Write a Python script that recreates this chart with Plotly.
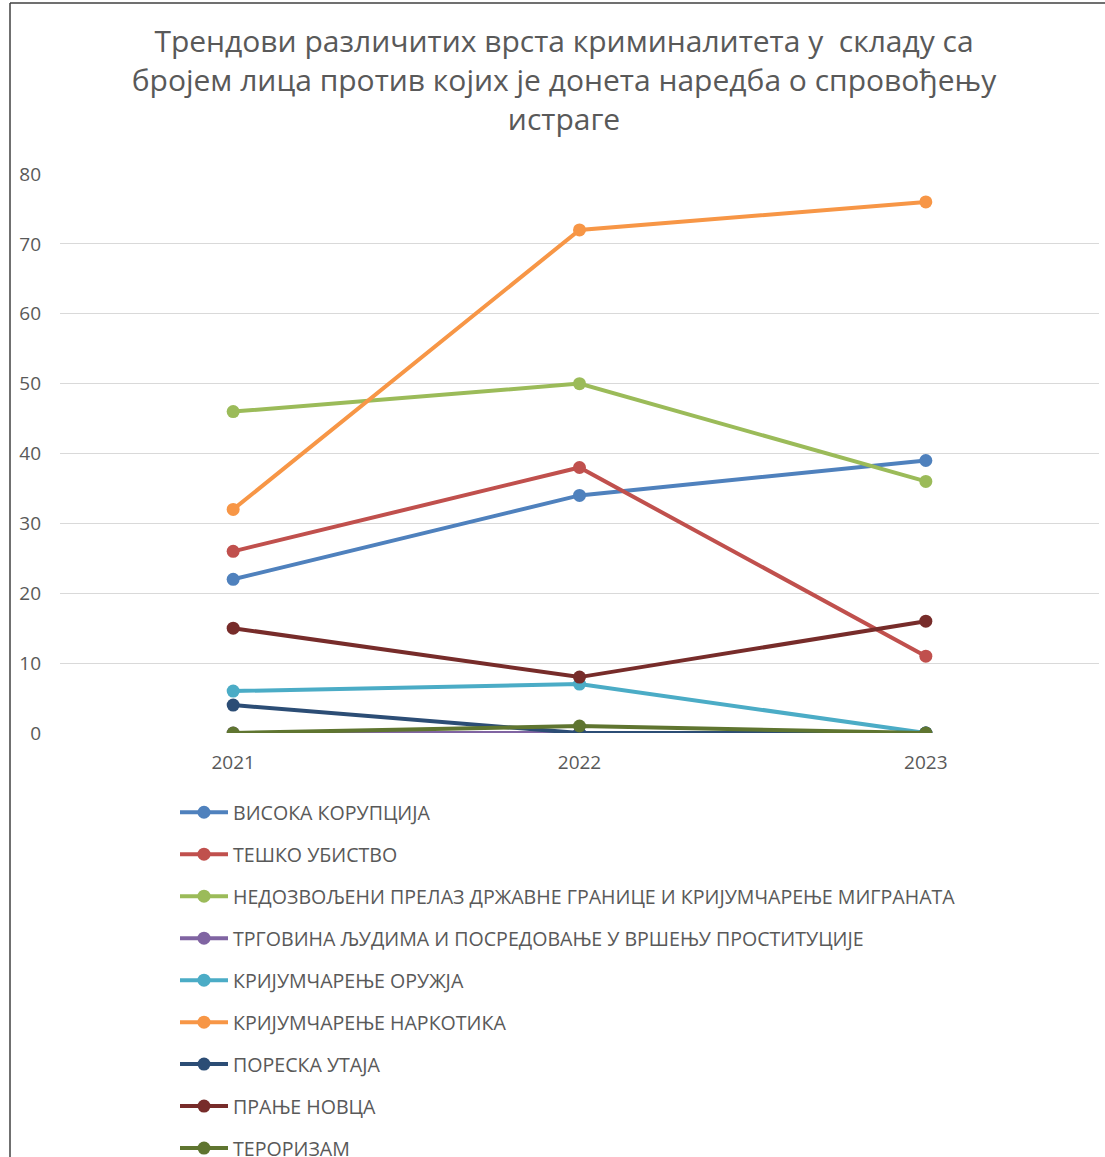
import plotly.graph_objects as go

years = ["2021", "2022", "2023"]
series_names = [
    "ВИСОКА КОРУПЦИЈА",
    "ТЕШКО УБИСТВО",
    "НЕДОЗВОЉЕНИ ПРЕЛАЗ ДРЖАВНЕ ГРАНИЦЕ И КРИЈУМЧАРЕЊЕ МИГРАНАТА",
    "ТРГОВИНА ЉУДИМА И ПОСРЕДОВАЊЕ У ВРШЕЊУ ПРОСТИТУЦИЈЕ",
    "КРИЈУМЧАРЕЊЕ ОРУЖЈА",
    "КРИЈУМЧАРЕЊЕ НАРКОТИКА",
    "ПОРЕСКА УТАЈА",
    "ПРАЊЕ НОВЦА",
    "ТЕРОРИЗАМ",
]
visoka_korupcija = [22, 34, 39]
tesko_ubistvo = [26, 38, 11]
nedozvoljeni_prelaz = [46, 50, 36]
trgovina_ljudima = [0, 0, 0]
krijumcarenje_oruzja = [6, 7, 0]
krijumcarenje_narkotika = [32, 72, 76]
poreska_utaja = [4, 0, 0]
pranje_novca = [15, 8, 16]
terorizam = [0, 1, 0]
y_ticks = [0, 10, 20, 30, 40, 50, 60, 70, 80]

values = [visoka_korupcija, tesko_ubistvo, nedozvoljeni_prelaz, trgovina_ljudima,
          krijumcarenje_oruzja, krijumcarenje_narkotika, poreska_utaja, pranje_novca, terorizam]
colors = ["#4F81BD", "#C0504D", "#9BBB59", "#8064A2", "#4BACC6",
          "#F79646", "#2C4D75", "#772C2A", "#5F7530"]

fig = go.Figure()
for i, (name, vals, col) in enumerate(zip(series_names, values, colors)):
    fig.add_trace(go.Scatter(
        x=years, y=vals, name=name, mode="lines+markers",
        line=dict(color=col, width=4),
        marker=dict(color=col, size=13),
        legendgroup=f"g{i}",
    ))

W, H = 1105, 1157
L, R, T, B = 60, 6, 174, 424
pw, ph = W - L - R, H - T - B

fig.update_layout(
    width=W, height=H,
    margin=dict(l=L, r=R, t=T, b=B, autoexpand=False),
    paper_bgcolor="white", plot_bgcolor="white",
    font=dict(family="Open Sans", color="#595959"),
    title=dict(
        text="Трендови различитих врста криминалитета у  складу са<br>бројем лица против којих је донета наредба о спровођењу<br>истраге",
        x=564 / W, xref="container", xanchor="center",
        y=1 - 52 / H, yref="container", yanchor="top",
        font=dict(family="Open Sans", size=30, color="#595959"),
    ),
    xaxis=dict(
        type="category", range=[-0.5, 2.5], showgrid=False, showline=False, zeroline=False,
        tickfont=dict(size=19, color="#595959"), ticks="", ticklabelstandoff=16,
    ),
    yaxis=dict(
        range=[0, 80], tickvals=y_ticks, showgrid=True, gridcolor="#D9D9D9", gridwidth=1,
        zeroline=False, showline=False, tickfont=dict(size=19, color="#595959"),
        ticks="", ticklabelstandoff=18,
    ),
    legend=dict(
        x=175 / W, xref="container", xanchor="left",
        y=1 - 793 / H, yref="container", yanchor="top",
        font=dict(family="Open Sans", size=19.6, color="#595959"),
        tracegroupgap=13.5, itemwidth=48,
        bgcolor="rgba(0,0,0,0)",
    ),
    showlegend=True,
)

# chart-area border (left and top edges visible)
fig.add_shape(type="line", xref="paper", yref="paper",
              x0=(10 - L) / pw, x1=(W + 20 - L) / pw,
              y0=(H - B - 3) / ph, y1=(H - B - 3) / ph,
              line=dict(color="#404040", width=1.5))
fig.add_shape(type="line", xref="paper", yref="paper",
              x0=(10 - L) / pw, x1=(10 - L) / pw,
              y0=(H - B - 3) / ph, y1=(H - B - H - 20) / ph,
              line=dict(color="#404040", width=1.5))

fig.write_html("out.html", config={"displayModeBar": False},
               post_script="document.body.style.margin='0';")
